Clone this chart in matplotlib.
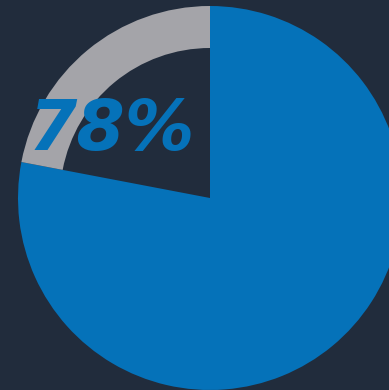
import matplotlib
matplotlib.use('Agg')
import matplotlib.pyplot as plt

# share of the ring
labels = ['Yes', 'Other']
values = [78, 22]
colors = ['#0572b9', '#a4a4a9']
label_text = '78%'

bg = '#212c3c'

fig = plt.figure(figsize=(3.89, 3.90), dpi=100, facecolor=bg)
ax = fig.add_axes([0, 0, 1, 1])
ax.set_facecolor(bg)

wedges, _ = ax.pie(values, colors=colors, startangle=90, counterclock=False,
                   center=(210, 192), radius=192,
                   wedgeprops=dict(linewidth=0))
# the remainder is drawn as a ring only
wedges[1].set_width(42)

ax.text(112, 240, label_text, ha='center', va='baseline',
        fontsize=50, fontweight='bold', fontstyle='italic',
        family='DejaVu Sans', color=colors[0])

ax.set_xlim(0, 389)
ax.set_ylim(0, 390)
ax.set_aspect('equal')
ax.axis('off')

fig.savefig('out.png', dpi=100, facecolor=bg)
